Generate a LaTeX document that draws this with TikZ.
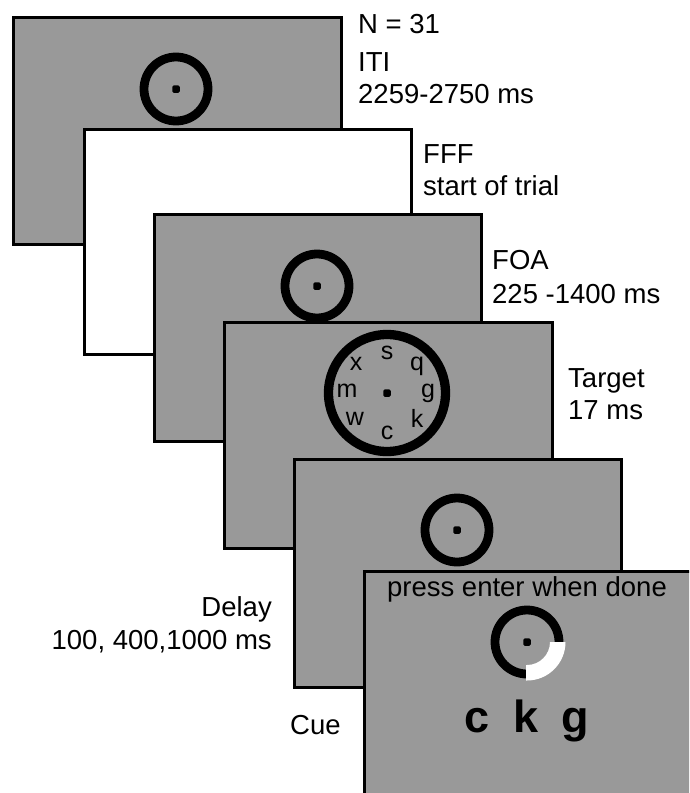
\documentclass[tikz,border=0pt]{standalone}
\usepackage{fontspec}
\setmainfont{Liberation Sans}
\definecolor{screengray}{RGB}{153,153,153}
\begin{document}
\begin{tikzpicture}[x=1pt,y=-1pt,
  screen/.style={draw=black, line width=2.6pt, fill=screengray, inner sep=0pt,
    anchor=north west, minimum width=327pt, minimum height=227pt},
  blankscreen/.style={screen, fill=white},
  ring/.style={draw=black, line width=8.8pt, circle, inner sep=0pt, minimum size=64pt},
  bigring/.style={draw=black, line width=9.3pt, circle, inner sep=0pt, minimum size=117pt},
  fixdot/.style={fill=black, rounded corners=1.5pt, inner sep=0pt, minimum size=7.5pt},
  lbl/.style={font=\fontsize{27.5}{30}\selectfont, inner sep=0pt},
  letter/.style={font=\fontsize{25}{27}\selectfont, inner sep=0pt},
  cue/.style={font=\fontsize{45}{47}\selectfont\bfseries, inner sep=0pt, anchor=base}]
\useasboundingbox[fill=white] (0,0) rectangle (689,793);
\clip (0,0) rectangle (689,793);

% ITI screen
\node[screen, minimum width=328pt] (s1) at (12,16) {};
\node[ring] (r1) at (176,89) {};
\node[fixdot] (d1) at (r1.center) {};

% blank screen
\node[blankscreen, minimum height=225pt] (s2) at (83,128) {};

% fixation screen
\node[screen] (s3) at (153,213) {};
\node[ring] (r3) at (317,286) {};
\node[fixdot] (d3) at (r3.center) {};

% target array
\node[screen, minimum width=328pt, minimum height=226pt] (s4) at (223,321) {};
\node[bigring] (r4) at (387,393) {};
\node[fixdot] (d4) at (r4.center) {};
\node[letter] (ls) at (387,353) {s};
\node[letter] (lq) at (417,366) {q};
\node[letter] (lg) at (428,393) {g};
\node[letter] (lk) at (417,418) {k};
\node[letter] (lc) at (387,433) {c};
\node[letter] (lw) at (355,419) {w};
\node[letter] (lm) at (347,391) {m};
\node[letter] (lx) at (356,364) {x};

% delay screen
\node[screen, minimum height=228pt] (s5) at (293,458) {};
\node[ring] (r5) at (457,530) {};
\node[fixdot] (d5) at (r5.center) {};

% cue screen with the probed quadrant marked in white
\node[screen] (s6) at (363,570) {};
\node[ring] (r6) at (527,642) {};
\fill[white] (r6.center) ++(23,0) arc[start angle=0, end angle=90, radius=23]
  -- ++(-1,0) -- ++(0,15.5) -- ++(1,0) arc[start angle=90, end angle=0, radius=38.5] -- cycle;
\node[fixdot] (d6) at (r6.center) {};
\node[lbl, anchor=base] (prompt) at (527,596) {press enter when done};
\node[cue] (cc) at (477,732) {c};
\node[cue] (ck) at (526,732) {k};
\node[cue] (cg) at (575,732) {g};

% phase labels
\node[lbl, anchor=base west] (n) at (358,33) {N = 31};
\node[lbl, anchor=base west] (iti) at (358,71) {ITI};
\node[lbl, anchor=base west] (itit) at (358,103) {2259-2750 ms};
\node[lbl, anchor=base west] (fff) at (423,163) {FFF};
\node[lbl, anchor=base west] (ffft) at (423,195) {start of trial};
\node[lbl, anchor=base west] (foa) at (492,269) {FOA};
\node[lbl, anchor=base west] (foat) at (492,303) {225 -1400 ms};
\node[lbl, anchor=base west] (tgt) at (568,387) {Target};
\node[lbl, anchor=base west] (tgtt) at (568,419) {17 ms};
\node[lbl, anchor=base east] (dly) at (272,616) {Delay};
\node[lbl, anchor=base east] (dlyt) at (272,649) {100, 400,1000 ms};
\node[lbl, anchor=base west] (cuel) at (290,734) {Cue};
\end{tikzpicture}
\end{document}
